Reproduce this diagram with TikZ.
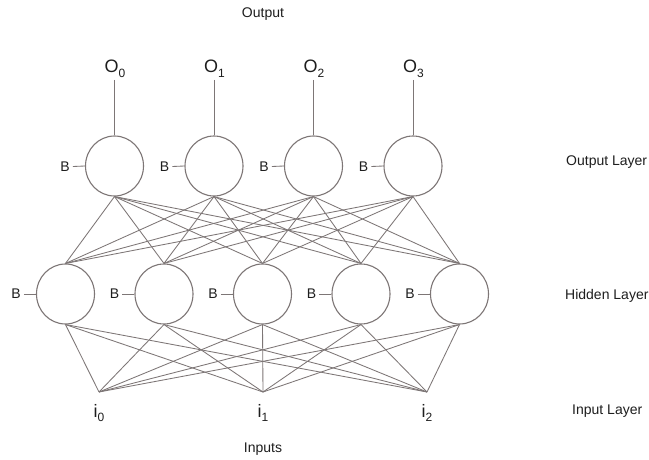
\documentclass[tikz,border=0pt]{standalone}
\usepackage{fontspec}
\setmainfont{Liberation Sans}
\usetikzlibrary{shapes.geometric}
\definecolor{linegray}{RGB}{125,118,118}
\definecolor{txt}{RGB}{30,30,30}
\newcommand{\subsc}[1]{\raisebox{-0.45ex}{\fontsize{12}{12}\selectfont #1}}
\begin{document}
\begin{tikzpicture}[x=1pt,y=-1pt,
  neuron/.style={ellipse,draw=linegray,line width=1.1pt,minimum width=58pt,minimum height=60pt,inner sep=0pt},
  conn/.style={draw=linegray,line width=0.85pt},
  lbl/.style={font=\fontsize{14}{16}\selectfont,text=txt,inner sep=0pt},
  biglbl/.style={font=\fontsize{18}{20}\selectfont,text=txt,inner sep=0pt,anchor=base},
  blbl/.style={font=\fontsize{14}{16}\selectfont,text=txt,inner sep=0pt}]
\useasboundingbox (0,0) rectangle (649,460);
\fill[white] (0,0) rectangle (649,460);
% output layer
\foreach \k/\x in {0/114.5,1/214,2/313.5,3/413}{
  \node[neuron] (o\k) at (\x,166) {};
  \node[biglbl] (ol\k) at (\x+0.5,73) {O\subsc{\k}};
  \coordinate (ot\k) at (\x,80);
  \draw[conn] (ot\k) -- (o\k.north);
  \node[blbl] (ob\k) at (\x-49.5,166.5) {B};
  \draw[conn] ([xshift=3pt]ob\k.east) -- (o\k.west);
}
% hidden layer
\foreach \k/\x in {0/65.5,1/164,2/262.5,3/361,4/459.5}{
  \node[neuron] (h\k) at (\x,294) {};
  \node[blbl] (hb\k) at (\x-49.5,294) {B};
  \draw[conn] ([xshift=3pt]hb\k.east) -- (h\k.west);
}
% inputs
\foreach \k/\x in {0/99,1/263,2/427}{
  \coordinate (i\k) at (\x,392);
  \node[biglbl] (il\k) at (\x,417) {i\subsc{\k}};
}
% connections
\foreach \a in {0,...,4}{
  \foreach \b in {0,...,3}{
    \draw[conn] (h\a.north) -- (o\b.south);
  }
  \foreach \c in {0,1,2}{
    \draw[conn] (i\c) -- (h\a.south);
  }
}
% texts
\node[lbl,anchor=base] (tout) at (263,18) {Output};
\node[lbl,anchor=base] (tin) at (263,452) {Inputs};
\node[lbl,anchor=base west] (lo) at (566,165) {Output Layer};
\node[lbl,anchor=base west] (lh) at (565,299) {Hidden Layer};
\node[lbl,anchor=base west] (li) at (572,414) {Input Layer};
\end{tikzpicture}
\end{document}
